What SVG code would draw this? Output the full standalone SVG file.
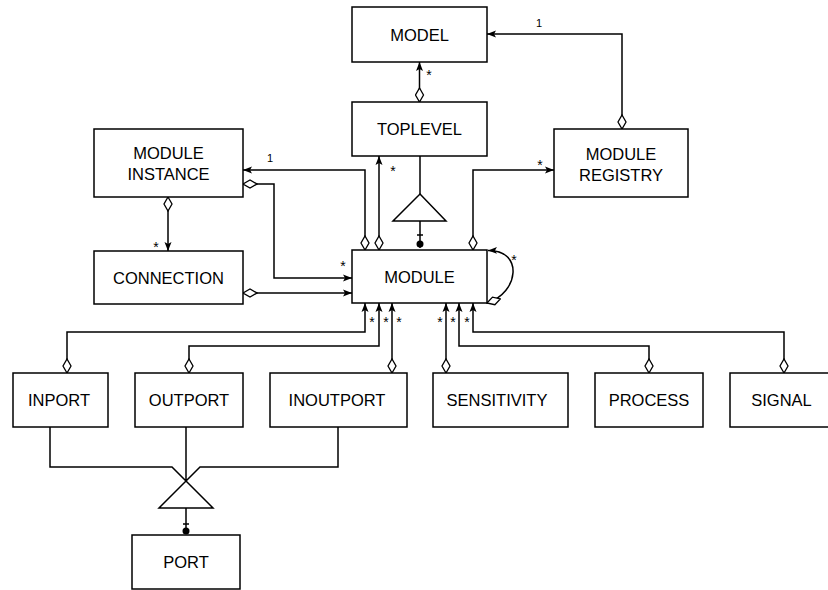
<svg xmlns="http://www.w3.org/2000/svg" width="828" height="590" viewBox="0 0 828 590">
<style>
.box{fill:#fff;stroke:#000;stroke-width:1.5}
.t{font-family:"Liberation Sans",Arial,sans-serif;font-size:16.5px;fill:#000;text-anchor:middle}
.s{font-family:"Liberation Sans",Arial,sans-serif;font-size:14px;fill:#000;text-anchor:middle}
.n{font-family:"Liberation Sans",Arial,sans-serif;font-size:11px;fill:#000;text-anchor:middle}
.c{fill:none;stroke:#000;stroke-width:1.5}
.a{marker-end:url(#arr)}
.d{marker-start:url(#dia)}
.inh{fill:#fff;stroke:#000;stroke-width:1.5}
</style>
<defs>
<marker id="arr" markerUnits="userSpaceOnUse" markerWidth="10" markerHeight="8" refX="9" refY="4" orient="auto">
<path d="M0,0.5 L9,4 L0,7.5 L2,4 z" fill="#000"/>
</marker>
<marker id="dia" markerUnits="userSpaceOnUse" markerWidth="16" markerHeight="10" refX="1" refY="5" orient="auto">
<path d="M1,5 L8,1 L15,5 L8,9 z" fill="#fff" stroke="#000" stroke-width="1.3"/>
</marker>
</defs>
<rect width="828" height="590" fill="#fff"/>
<g id="connectors">
<path class="c a d" d="M419.5,102 L419.5,62"/>
<path class="c a d" d="M622,129 L622,34 L487,34"/>
<path class="c a d" d="M365,250 L365,170 L243,170"/>
<path class="c a d" d="M379,250 L379,156"/>
<path class="c a d" d="M243,184 L274,184 L274,278 L352,278"/>
<path class="c a d" d="M243,293 L352,293"/>
<path class="c a d" d="M168,197 L168,251"/>
<path class="c a d" d="M473,250 L473,170 L554,170"/>
<path class="c a d" d="M487,303 C519,293 524,250 488,250.5"/>
<path class="c a d" d="M67,373 L67,332 L365,332 L365,303"/>
<path class="c a d" d="M189,373 L189,346 L379,346 L379,303"/>
<path class="c a d" d="M392,373 L392,303"/>
<path class="c a d" d="M446,373 L446,303"/>
<path class="c a d" d="M649,373 L649,346 L459,346 L459,303"/>
<path class="c a d" d="M784,373 L784,332 L473,332 L473,303"/>
<path class="c" d="M420,156 L420,194"/>
<polygon class="inh" points="420,194 446,221 393,221"/>
<path class="c" d="M420,221 L420,248 M417,235 L423,235"/>
<circle cx="420" cy="244" r="3.5" fill="#000"/>
<path class="c" d="M50,427 L50,467 L172,467 L186,481 M186,427 L186,481 M338,427 L338,467 L200,467 L186,481"/>
<polygon class="inh" points="186,481 213,508 159,508"/>
<path class="c" d="M186,508 L186,534 M183,524 L189,524"/>
<circle cx="186" cy="531" r="3.5" fill="#000"/>
<text class="s" x="429" y="80">*</text>
<text class="n" x="539" y="27">1</text>
<text class="n" x="270" y="162">1</text>
<text class="s" x="393" y="176">*</text>
<text class="s" x="343" y="271">*</text>
<text class="s" x="156" y="252">*</text>
<text class="s" x="540" y="170">*</text>
<text class="s" x="514" y="265">*</text>
<text class="s" x="372" y="327">*</text>
<text class="s" x="386" y="327">*</text>
<text class="s" x="399" y="327">*</text>
<text class="s" x="440" y="327">*</text>
<text class="s" x="453" y="327">*</text>
<text class="s" x="467" y="327">*</text>
</g>
<g id="model"><rect class="box" x="352" y="7" width="135" height="55"/><text class="t" x="419.5" y="40.5">MODEL</text></g>
<g id="toplevel"><rect class="box" x="352" y="102" width="135" height="54"/><text class="t" x="419.5" y="135">TOPLEVEL</text></g>
<g id="module-instance"><rect class="box" x="94" y="129" width="149" height="68"/><text class="t" x="168.5" y="159">MODULE</text><text class="t" x="168.5" y="180">INSTANCE</text></g>
<g id="module-registry"><rect class="box" x="554" y="129" width="134" height="68"/><text class="t" x="621" y="160">MODULE</text><text class="t" x="621" y="181">REGISTRY</text></g>
<g id="connection"><rect class="box" x="94" y="251" width="149" height="53"/><text class="t" x="168.5" y="284">CONNECTION</text></g>
<g id="module"><rect class="box" x="352" y="250" width="135" height="53"/><text class="t" x="419.5" y="283">MODULE</text></g>
<g id="inport"><rect class="box" x="13" y="373" width="95" height="54"/><text class="t" x="59" y="406">INPORT</text></g>
<g id="outport"><rect class="box" x="135" y="373" width="108" height="54"/><text class="t" x="189" y="406">OUTPORT</text></g>
<g id="inoutport"><rect class="box" x="270" y="373" width="137" height="54"/><text class="t" x="337" y="406">INOUTPORT</text></g>
<g id="sensitivity"><rect class="box" x="433" y="373" width="135" height="54"/><text class="t" x="497" y="406">SENSITIVITY</text></g>
<g id="process"><rect class="box" x="595" y="373" width="108" height="54"/><text class="t" x="649" y="406">PROCESS</text></g>
<g id="signal"><rect class="box" x="730" y="373" width="104" height="54"/><text class="t" x="781.5" y="406">SIGNAL</text></g>
<g id="port"><rect class="box" x="132" y="535" width="108" height="54"/><text class="t" x="186" y="568">PORT</text></g>
</svg>
